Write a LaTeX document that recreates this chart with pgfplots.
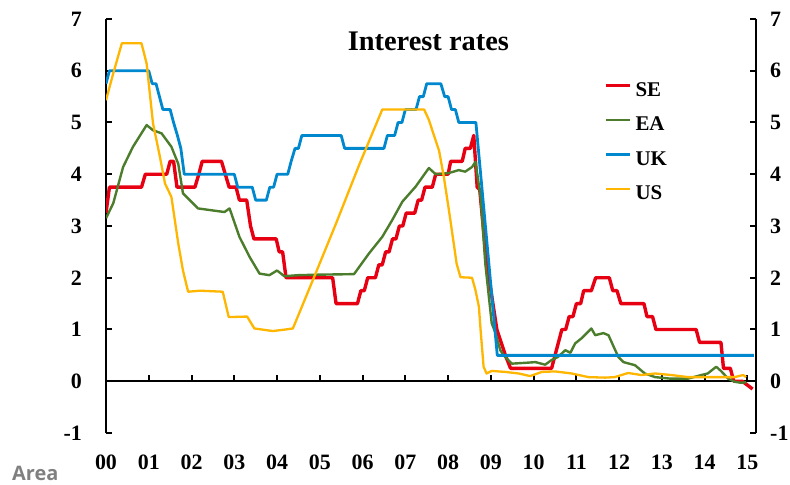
\documentclass[border=0pt]{standalone}
\usepackage{pgfplots}
\pgfplotsset{compat=1.18}
\usepackage{fontspec}
\setmainfont{Liberation Serif}
\newfontfamily\areafont{Open Sans}

\definecolor{seRed}{RGB}{230,0,18}
\definecolor{eaGreen}{RGB}{76,125,44}
\definecolor{ukBlue}{RGB}{0,136,206}
\definecolor{usYellow}{RGB}{255,182,0}

\pgfplotsset{
  ratebase/.style={
    scale only axis, width=650bp, height=414bp,
    at={(0,0)}, anchor=south west,
    xmin=0, xmax=15.2, ymin=-1, ymax=7,
    xtick={0,...,15}, ytick={-1,...,7},
    major tick length=6bp,
    every tick/.style={black, line width=2bp},
    axis line style={black, line width=2.4bp},
    /pgf/number format/assume math mode=true,
    tick label style={font=\fontsize{22}{26}\selectfont\bfseries},
  },
}

\begin{document}
\begin{tikzpicture}
% data, left axis, zero line
\begin{axis}[
  ratebase,
  axis x line*=middle, axis y line*=left,
  xtick align=inside, ytick align=inside,
  xticklabels=\empty,
  yticklabel style={anchor=east, inner sep=0pt, xshift=-24bp},
  legend style={at={(rel axis cs:0.766,0.855)}, anchor=north west,
    draw=none, fill=none, font=\fontsize{21}{25}\selectfont\bfseries,
    row sep=12.5bp, inner sep=0pt,
    nodes={inner sep=1bp, text height=16bp, text depth=4bp},
    /tikz/every odd column/.append style={column sep=3bp}},
  legend cell align=left,
  legend image code/.code={\draw[#1] (0bp,5bp) -- (24bp,5bp);},
  every axis plot/.append style={line join=round},
]
\addplot[seRed, line width=3.4bp] coordinates {
 (0,3.25)(0.08,3.75)(0.83,3.75)(0.92,4.0)(1.42,4.0)(1.5,4.25)(1.58,4.25)(1.66,3.75)
 (2.08,3.75)(2.17,4.0)(2.25,4.25)(2.7,4.25)(2.79,4.0)(2.88,3.75)(3.04,3.75)(3.12,3.5)
 (3.29,3.5)(3.38,3.0)(3.46,2.75)(3.98,2.75)(4.05,2.5)(4.13,2.5)(4.21,2.0)(5.3,2.0)
 (5.38,1.5)(5.88,1.5)(5.96,1.75)(6.04,1.75)(6.12,2.0)(6.3,2.0)(6.38,2.25)(6.46,2.25)
 (6.54,2.5)(6.62,2.5)(6.7,2.75)(6.78,2.75)(6.86,3.0)(6.94,3.0)(7.02,3.25)(7.22,3.25)
 (7.3,3.5)(7.38,3.5)(7.46,3.75)(7.63,3.75)(7.71,4.0)(8.0,4.0)(8.06,4.25)(8.33,4.25)
 (8.4,4.5)(8.52,4.5)(8.6,4.75)(8.68,3.75)(8.74,3.7)(8.9,2.3)(9.14,1.0)(9.34,0.5)
 (9.46,0.25)(10.42,0.25)(10.5,0.5)(10.58,0.75)(10.66,1.0)(10.75,1.0)(10.83,1.25)
 (10.92,1.25)(11.0,1.5)(11.1,1.5)(11.17,1.75)(11.35,1.75)(11.45,2.0)(11.77,2.0)
 (11.85,1.75)(11.95,1.75)(12.04,1.5)(12.58,1.5)(12.65,1.25)(12.78,1.25)(12.86,1.0)
 (13.8,1.0)(13.88,0.75)(14.38,0.75)(14.44,0.25)(14.6,0.25)(14.68,0.0)(14.88,0.0)
 (15.12,-0.15)};
\addlegendentry{SE}
\addplot[eaGreen, line width=2.4bp] coordinates {
 (0,3.15)(0.17,3.44)(0.4,4.14)(0.63,4.53)(0.95,4.95)(1.1,4.85)(1.3,4.79)(1.53,4.53)
 (1.69,4.2)(1.8,3.63)(1.96,3.5)(2.15,3.34)(2.5,3.3)(2.77,3.27)(2.89,3.34)(3.12,2.79)
 (3.36,2.4)(3.59,2.08)(3.82,2.05)(4.0,2.14)(4.17,2.03)(4.5,2.05)(5.0,2.06)(5.8,2.07)
 (6.15,2.47)(6.46,2.79)(6.69,3.11)(6.93,3.47)(7.24,3.76)(7.55,4.12)(7.71,4.0)(8.0,4.02)
 (8.25,4.08)(8.4,4.05)(8.56,4.14)(8.64,4.24)(8.76,3.56)(8.87,2.27)(9.02,1.12)(9.1,0.95)
 (9.22,0.6)(9.3,0.5)(9.49,0.34)(9.88,0.36)(10.04,0.37)(10.27,0.32)(10.42,0.41)(10.57,0.47)
 (10.74,0.6)(10.86,0.55)(10.97,0.73)(11.12,0.83)(11.35,1.02)(11.44,0.89)(11.63,0.93)
 (11.75,0.89)(11.98,0.47)(12.1,0.37)(12.37,0.31)(12.6,0.15)(12.84,0.08)(13.2,0.05)
 (13.61,0.05)(13.92,0.12)(14.07,0.15)(14.27,0.28)(14.38,0.2)(14.55,0.05)(14.7,-0.01)
 (14.85,-0.03)(14.97,-0.02)};
\addlegendentry{EA}
\addplot[ukBlue, line width=2.8bp] coordinates {
 (0,5.75)(0.08,6.0)(1.0,6.0)(1.08,5.75)(1.17,5.75)(1.25,5.5)(1.33,5.25)(1.5,5.25)
 (1.58,5.0)(1.67,4.75)(1.75,4.5)(1.83,4.0)(3.0,4.0)(3.08,3.75)(3.42,3.75)(3.5,3.5)
 (3.75,3.5)(3.83,3.75)(3.92,3.75)(4.0,4.0)(4.25,4.0)(4.33,4.25)(4.42,4.5)(4.5,4.5)
 (4.58,4.75)(5.5,4.75)(5.58,4.5)(6.5,4.5)(6.58,4.75)(6.75,4.75)(6.83,5.0)(6.92,5.0)
 (7.0,5.25)(7.25,5.25)(7.33,5.5)(7.42,5.5)(7.5,5.75)(7.83,5.75)(7.92,5.5)(8.0,5.5)
 (8.08,5.25)(8.17,5.25)(8.25,5.0)(8.65,5.0)(9.15,0.5)(15.15,0.5)};
\addlegendentry{UK}
\addplot[usYellow, line width=2.3bp] coordinates {
 (0,5.43)(0.17,5.95)(0.37,6.53)(0.83,6.53)(0.95,6.14)(1.1,4.98)(1.26,4.34)(1.38,3.82)
 (1.53,3.56)(1.69,2.66)(1.8,2.14)(1.92,1.73)(2.2,1.75)(2.73,1.73)(2.87,1.24)(3.3,1.25)
 (3.47,1.02)(3.9,0.97)(4.2,1.0)(4.37,1.02)(4.87,2.02)(5.38,3.05)(5.92,4.18)(6.46,5.25)
 (7.44,5.25)(7.55,5.05)(7.63,4.85)(7.79,4.45)(7.9,3.95)(8.02,3.3)(8.09,2.9)(8.2,2.27)
 (8.29,2.01)(8.56,2.0)(8.64,1.76)(8.72,1.44)(8.76,0.99)(8.83,0.28)(8.9,0.15)(9.02,0.2)
 (9.34,0.18)(9.65,0.15)(9.92,0.1)(10.19,0.18)(10.5,0.19)(10.89,0.15)(11.28,0.08)
 (11.67,0.07)(11.9,0.08)(12.21,0.16)(12.52,0.12)(12.84,0.15)(13.22,0.12)(13.61,0.08)
 (13.99,0.08)(14.38,0.08)(14.7,0.08)(14.9,0.12)(14.97,0.08)};
\addlegendentry{US}
\node[anchor=base, font=\fontsize{28.5}{32}\selectfont\bfseries]
  at (rel axis cs:0.496,0.925) {Interest rates};
\end{axis}
% right axis and bottom year labels
\begin{axis}[
  ratebase,
  axis x line*=bottom, axis y line*=right,
  x axis line style={draw=none}, xtick style={draw=none},
  ytick align=inside,
  xticklabels={00,01,02,03,04,05,06,07,08,09,10,11,12,13,14,15},
  xticklabel style={anchor=base, inner sep=0pt, yshift=-37bp},
  yticklabel style={anchor=west, inner sep=0pt, xshift=14bp},
]
\end{axis}
\node[anchor=base west, inner sep=0pt, text=black!50, font=\areafont\bfseries\fontsize{20}{23}\selectfont]
  at (-94bp,-47bp) {Area};
\pgfresetboundingbox
\path[use as bounding box] (-106bp,-52bp) rectangle (684bp,433bp);
\end{tikzpicture}
\end{document}
